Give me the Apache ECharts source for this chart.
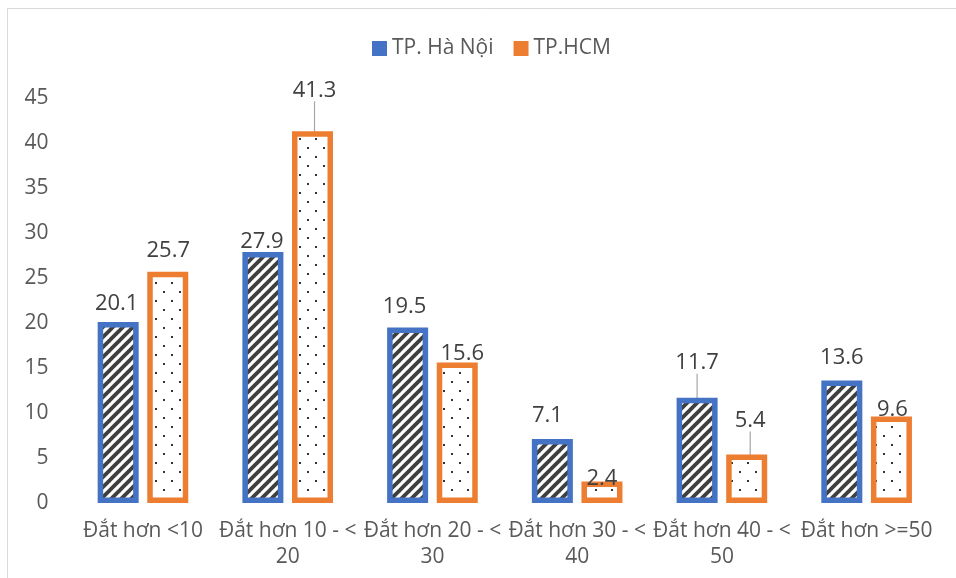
<!DOCTYPE html>
<html>
<head>
<meta charset="utf-8">
<script src="https://cdn.jsdelivr.net/npm/echarts@6/dist/echarts.min.js"></script>
<style>
  html, body { margin: 0; padding: 0; background: #ffffff; }
  #chart { width: 956px; height: 578px; }
</style>
</head>
<body>
<div id="chart"></div>
<script>
// Price brackets and shares (%) for the two cities
const categories = ['Đắt hơn <10', 'Đắt hơn 10 - <\n20', 'Đắt hơn 20 - <\n30', 'Đắt hơn 30 - <\n40', 'Đắt hơn 40 - <\n50', 'Đắt hơn >=50'];
const seriesNames = ['TP. Hà Nội', 'TP.HCM'];
const hanoiValues = [20.1, 27.9, 19.5, 7.1, 11.7, 13.6];
const hcmValues = [25.7, 41.3, 15.6, 2.4, 5.4, 9.6];
const yMin = 0, yMax = 45, yStep = 5;

// Hand-placed label nudges [dx, dy] and which labels get a leader line
const labelNudge = [
  [[-1.5, -7], [-1, 1], [-3, -9.5], [-5, -12], [0, -24], [0, -12]],
  [[0.5, -10], [2, -30], [5, 2], [0, 8], [3.5, -23], [1, 4]]
];
const leader = [
  [false, false, false, false, true, false],
  [false, true, false, false, true, false]
];

const FONT = '"Open Sans", "Noto Sans", sans-serif';

// Hatched fill: dark upward diagonal stripes on white
function stripePattern() {
  const s = 10;
  const c = document.createElement('canvas');
  c.width = s; c.height = s;
  const g = c.getContext('2d');
  g.fillStyle = '#ffffff';
  g.fillRect(0, 0, s, s);
  g.strokeStyle = '#3f3f3f';
  g.lineWidth = 3.8;
  g.lineCap = 'square';
  [-s, 0, s].forEach((ox) => {
    g.beginPath();
    g.moveTo(ox, s);
    g.lineTo(ox + s, 0);
    g.stroke();
  });
  return c;
}

// Dotted fill: sparse small dots on white
function dotPattern() {
  const w = 16, h = 18;
  const c = document.createElement('canvas');
  c.width = w; c.height = h;
  const g = c.getContext('2d');
  g.fillStyle = '#ffffff';
  g.fillRect(0, 0, w, h);
  g.fillStyle = '#333333';
  g.fillRect(3, 3, 2, 2);
  g.fillRect(11, 12, 2, 2);
  return c;
}

const fills = [stripePattern(), dotPattern()];
const borders = ['#4472C4', '#ED7D31'];
const allValues = [hanoiValues, hcmValues];

function buildSeries(k) {
  return {
    name: seriesNames[k],
    type: 'bar',
    barWidth: 41,
    barGap: '21%',
    data: allValues[k].map((v, i) => ({
      value: v,
      labelLine: { show: leader[k][i] }
    })),
    itemStyle: {
      color: { image: fills[k], repeat: 'repeat' },
      borderColor: borders[k],
      borderWidth: 5.5
    },
    label: {
      show: true,
      position: 'top',
      distance: 0,
      fontFamily: FONT,
      fontSize: 22,
      color: '#404040'
    },
    labelLine: {
      show: false,
      lineStyle: { color: '#a6a6a6', width: 1.2 }
    },
    labelLayout: (p) => ({ dx: labelNudge[k][p.dataIndex][0], dy: labelNudge[k][p.dataIndex][1] }),
    emphasis: { disabled: true },
    animation: false
  };
}

const chart = echarts.init(document.getElementById('chart'), null, { renderer: 'canvas' });
chart.setOption({
  backgroundColor: '#ffffff',
  animation: false,
  graphic: [{
    type: 'rect',
    shape: { x: 7.5, y: 8.5, width: 980, height: 600 },
    style: { fill: 'none', stroke: '#d9d9d9', lineWidth: 1 },
    silent: true,
    z: -10
  }],
  legend: {
    left: 367,
    top: 33,
    itemWidth: 15,
    itemHeight: 15,
    itemGap: 20,
    icon: 'rect',
    textStyle: { fontFamily: FONT, fontSize: 21, color: '#595959' },
    data: [
      { name: seriesNames[0], itemStyle: { color: borders[0], borderWidth: 0 } },
      { name: seriesNames[1], itemStyle: { color: borders[1], borderWidth: 0 } }
    ]
  },
  grid: { left: 70.6, right: 17, top: 98, bottom: 75, containLabel: false },
  xAxis: {
    type: 'category',
    data: categories,
    axisLine: { show: false },
    axisTick: { show: false },
    axisLabel: {
      interval: 0,
      margin: 15,
      fontFamily: FONT,
      fontSize: 21,
      lineHeight: 26,
      color: '#595959'
    }
  },
  yAxis: {
    type: 'value',
    min: yMin,
    max: yMax,
    interval: yStep,
    axisLine: { show: false },
    axisTick: { show: false },
    splitLine: { show: false },
    axisLabel: {
      margin: 22,
      fontFamily: FONT,
      fontSize: 21,
      color: '#595959'
    }
  },
  series: [buildSeries(0), buildSeries(1)]
});
</script>
</body>
</html>
